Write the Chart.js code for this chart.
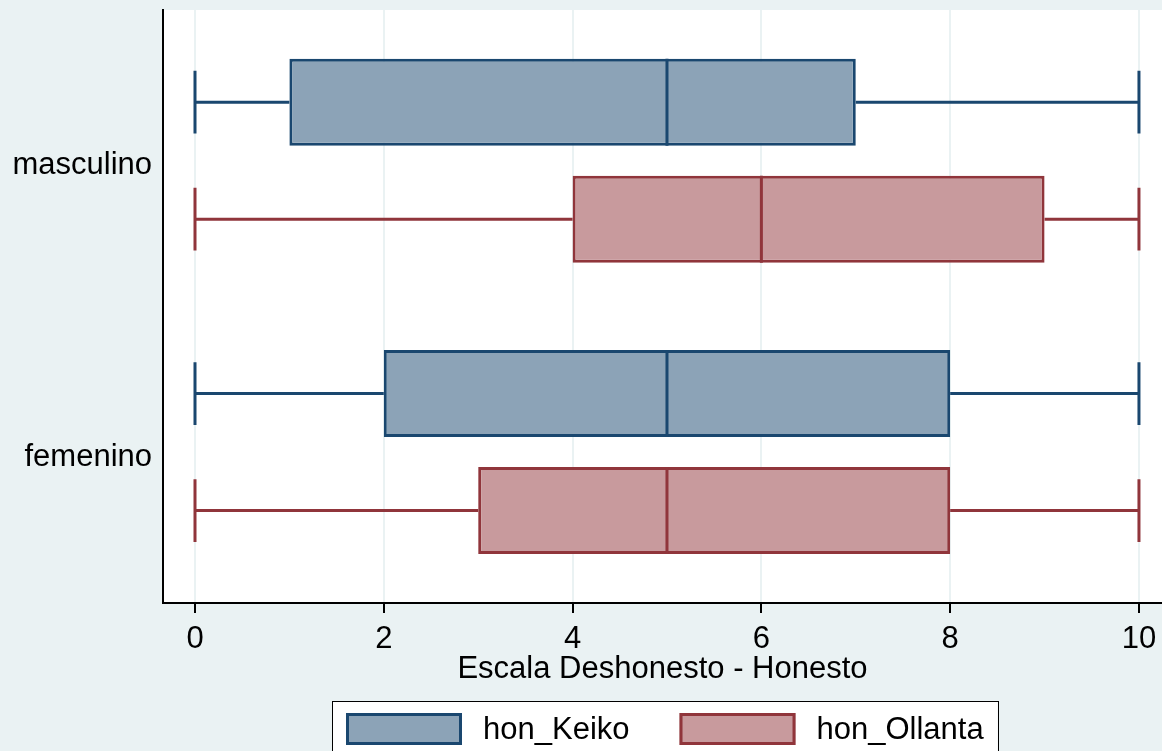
<!DOCTYPE html>
<html>
<head>
<meta charset="utf-8">
<script src="https://cdn.jsdelivr.net/npm/chart.js@4"></script>
<style>
  html, body { margin: 0; padding: 0; background: #EAF2F3; overflow: hidden; }
  #wrap { width: 1162px; height: 751px; }
</style>
</head>
<body>
<div id="wrap"><canvas id="c"></canvas></div>
<script>
// Categories (groups) and series names
const categories = ['masculino', 'femenino'];
const seriesNames = ['hon_Keiko', 'hon_Ollanta'];

// Five-number summaries per group, hon_Keiko
const keikoMin = [0, 0];
const keikoQ1 = [1, 2];
const keikoMedian = [5, 5];
const keikoQ3 = [7, 8];
const keikoMax = [10, 10];

// Five-number summaries per group, hon_Ollanta
const ollantaMin = [0, 0];
const ollantaQ1 = [4, 3];
const ollantaMedian = [6, 5];
const ollantaQ3 = [9, 8];
const ollantaMax = [10, 10];

// Value axis
const xTicks = [0, 2, 4, 6, 8, 10];
const xTitle = 'Escala Deshonesto - Honesto';

const FONT = '"Liberation Sans", Arial, Helvetica, sans-serif';
const BG = '#EAF2F3';

// Paints the backgrounds, draws whiskers/medians over the floating bars,
// and renders the framed legend below the axis title.
const boxPlotExtras = {
  id: 'boxPlotExtras',
  beforeDraw(chart) {
    const { ctx, chartArea: a } = chart;
    ctx.save();
    ctx.fillStyle = BG;
    ctx.fillRect(0, 0, chart.width, chart.height);
    ctx.fillStyle = '#FFFFFF';
    ctx.fillRect(a.left, a.top, a.right - a.left, a.bottom - a.top);
    ctx.restore();
  },
  afterDatasetsDraw(chart) {
    const { ctx } = chart;
    const xs = chart.scales.x;
    chart.data.datasets.forEach((ds, i) => {
      const meta = chart.getDatasetMeta(i);
      meta.data.forEach((bar, j) => {
        const { y, height } = bar.getProps(['y', 'height'], true);
        const pMin = xs.getPixelForValue(ds.stats.min[j]);
        const pQ1 = xs.getPixelForValue(ds.data[j].x[0]);
        const pQ3 = xs.getPixelForValue(ds.data[j].x[1]);
        const pMax = xs.getPixelForValue(ds.stats.max[j]);
        const pMed = xs.getPixelForValue(ds.stats.median[j]);
        const cap = height * 0.36;
        ctx.save();
        ctx.strokeStyle = ds.borderColor;
        ctx.lineWidth = 3;
        ctx.lineCap = 'butt';
        ctx.beginPath();
        // whiskers
        ctx.moveTo(pMin, y); ctx.lineTo(pQ1, y);
        ctx.moveTo(pQ3, y); ctx.lineTo(pMax, y);
        // caps
        ctx.moveTo(pMin, y - cap); ctx.lineTo(pMin, y + cap);
        ctx.moveTo(pMax, y - cap); ctx.lineTo(pMax, y + cap);
        // median
        ctx.moveTo(pMed, y - height / 2); ctx.lineTo(pMed, y + height / 2);
        ctx.stroke();
        ctx.restore();
      });
    });
  },
  afterDraw(chart) {
    const { ctx, chartArea: a } = chart;
    const xs = chart.scales.x;
    const sw = 116, sh = 32, gapText = 21, gapItem = 50, padX = 14, padY = 12;
    ctx.save();
    ctx.font = '31px ' + FONT;
    const items = chart.data.datasets.map(ds => ({ ds, tw: ctx.measureText(ds.label).width }));
    const total = items.reduce((s, it) => s + sw + gapText + it.tw, 0) + gapItem * (items.length - 1);
    let x = Math.round((a.left + a.right) / 2 - total / 2) + 2;
    const top = Math.round(xs.bottom + 16);
    // frame
    ctx.fillStyle = '#FFFFFF';
    ctx.fillRect(x - padX, top, total + 2 * padX, sh + 2 * padY);
    ctx.strokeStyle = '#000000';
    ctx.lineWidth = 1;
    ctx.strokeRect(x - padX + 0.5, top + 0.5, Math.round(total + 2 * padX), sh + 2 * padY);
    const sy = top + padY;
    items.forEach(({ ds, tw }) => {
      ctx.fillStyle = ds.backgroundColor;
      ctx.fillRect(x, sy, sw, sh);
      ctx.strokeStyle = ds.borderColor;
      ctx.lineWidth = 3;
      ctx.strokeRect(x + 1.5, sy + 1.5, sw - 3, sh - 3);
      ctx.fillStyle = '#000000';
      ctx.textBaseline = 'middle';
      ctx.textAlign = 'left';
      ctx.fillText(ds.label, x + sw + gapText, sy + sh / 2 + 1);
      x += sw + gapText + tw + gapItem;
    });
    ctx.restore();
  }
};

const makeBars = (q1, q3) => categories.map((c, i) => ({ y: i, x: [q1[i], q3[i]] }));

new Chart(document.getElementById('c'), {
  type: 'bar',
  data: {
    datasets: [
      {
        label: seriesNames[0],
        data: makeBars(keikoQ1, keikoQ3),
        backgroundColor: '#8CA3B7',
        borderColor: '#1A476F',
        borderWidth: 3,
        borderSkipped: false,
        stats: { min: keikoMin, median: keikoMedian, max: keikoMax }
      },
      {
        label: seriesNames[1],
        data: makeBars(ollantaQ1, ollantaQ3),
        backgroundColor: '#C89A9D',
        borderColor: '#90353B',
        borderWidth: 3,
        borderSkipped: false,
        stats: { min: ollantaMin, median: ollantaMedian, max: ollantaMax }
      }
    ]
  },
  options: {
    indexAxis: 'y',
    responsive: true,
    maintainAspectRatio: false,
    animation: false,
    layout: { padding: { top: 10, left: 10, right: 0, bottom: 66 } },
    datasets: { bar: { categoryPercentage: 0.803, barPercentage: 0.744 } },
    plugins: {
      legend: { display: false },
      tooltip: { enabled: false },
      title: { display: false }
    },
    scales: {
      x: {
        type: 'linear',
        min: -0.339,
        max: 10.244,
        afterBuildTicks: s => { s.ticks = xTicks.map(v => ({ value: v })); },
        afterFit: s => { s.height = 82; s.paddingLeft = 0; s.paddingRight = 0; },
        grid: { color: BG, lineWidth: 2, drawTicks: true, tickLength: 10, tickColor: '#000000', tickWidth: 2 },
        border: { display: true, color: '#000000', width: 2 },
        ticks: { color: '#000000', font: { family: FONT, size: 31, lineHeight: 1 }, padding: 11, maxRotation: 0, autoSkip: false },
        title: { display: true, text: xTitle, color: '#000000', font: { family: FONT, size: 31, lineHeight: 1 }, padding: { top: 0, bottom: 0 } }
      },
      y: {
        type: 'linear',
        reverse: true,
        offset: false,
        min: -0.517,
        max: 1.518,
        afterBuildTicks: s => { s.ticks = categories.map((c, i) => ({ value: i })); },
        afterFit: s => { s.width = 153; s.paddingTop = 0; s.paddingBottom = 0; },
        grid: { display: false, drawTicks: false, offset: false },
        border: { display: true, color: '#000000', width: 2 },
        ticks: { color: '#000000', font: { family: FONT, size: 31 }, padding: 11, labelOffset: 5, callback: v => categories[v] }
      }
    }
  },
  plugins: [boxPlotExtras]
});
</script>
</body>
</html>
